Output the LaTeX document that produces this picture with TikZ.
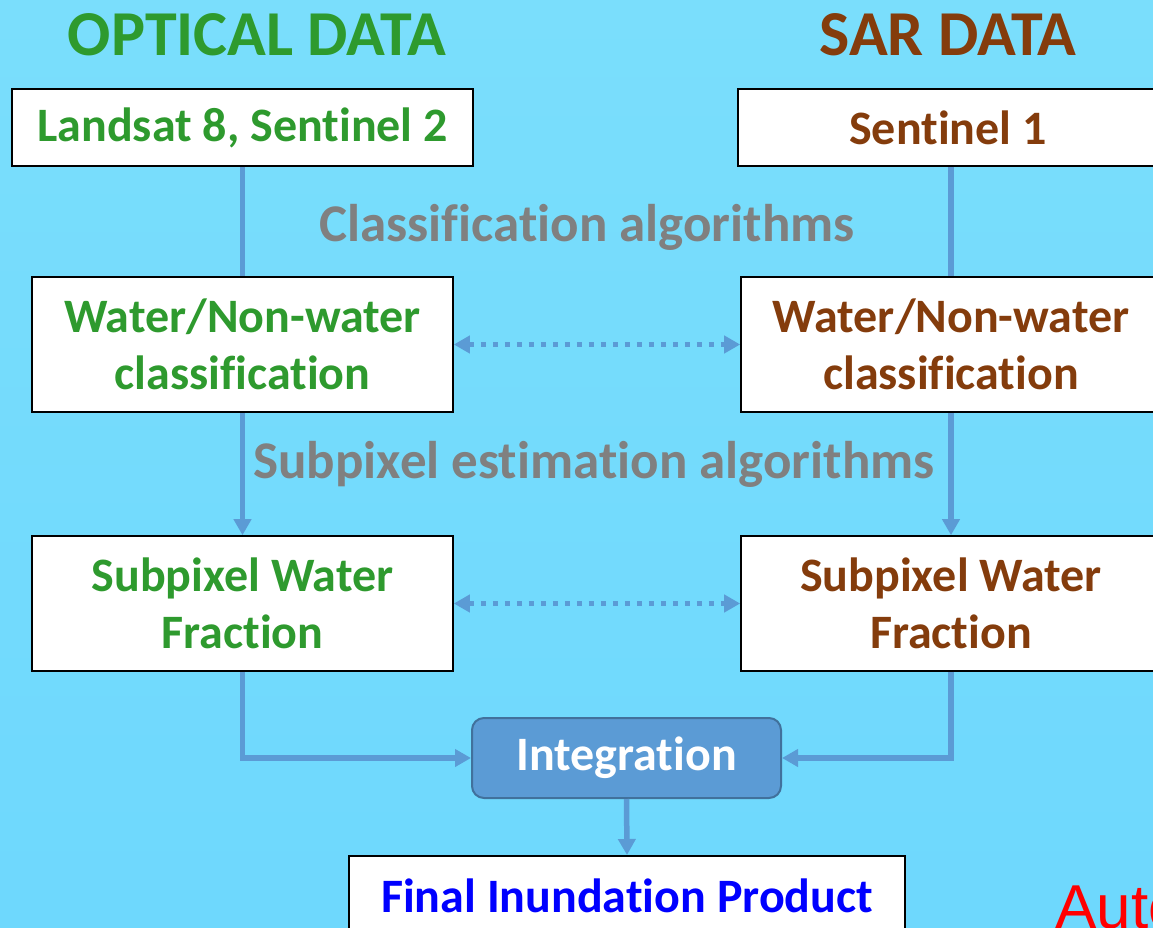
\documentclass[tikz,border=0pt]{standalone}
\usepackage{fontspec}
\setmainfont{Carlito}[Ligatures=NoCommon]
\newfontfamily\arialfont{Liberation Sans}
\usepackage{xcolor}
\usetikzlibrary{positioning,arrows.meta}

\definecolor{optgreen}{HTML}{2E9A2E}
\definecolor{sarbrown}{HTML}{843C0C}
\definecolor{linkblue}{HTML}{5B9BD5}
\definecolor{integline}{HTML}{41719C}
\definecolor{algogray}{HTML}{808080}

\begin{document}
\begin{tikzpicture}[x=1pt,y=-1pt,
                    data box/.style={draw=black,line width=1.6pt,fill=white,inner sep=0pt,align=center,
                                     font=\bfseries\fontsize{48}{57}\selectfont},
                    head/.style={font=\bfseries\fontsize{64}{64}\selectfont},
                    algo/.style={text=algogray,font=\bfseries\fontsize{53}{60}\selectfont},
                    link/.style={draw=linkblue,line width=5.5pt},
                    tip/.style={-{Triangle[length=16pt,width=17pt]}}]

  \useasboundingbox (0,0) rectangle (1153,928);
  \clip (0,0) rectangle (1153,928);
  \shade[top color={rgb,255:red,122;green,222;blue,252},middle color={rgb,255:red,134;green,228;blue,253},
         bottom color={rgb,255:red,110;green,216;blue,253}] (0,0) rectangle (1153,928);

  % headers
  \node[head,text=optgreen] (opthead) at (257,35) {OPTICAL DATA};
  \node[head,text=sarbrown] (sarhead) at (948,35) {SAR DATA};

  % boxes
  \node[data box,text=optgreen,minimum width=461pt,minimum height=77pt] (land) at (242.5,127.5) {Landsat 8, Sentinel 2};
  \node[data box,text=sarbrown,minimum width=420pt,minimum height=77pt] (sent) at (948,127.5) {Sentinel 1};
  \node[data box,text=optgreen,minimum width=421pt,minimum height=135pt] (optclass) at (242.5,344.5) {Water/Non-water\\classification};
  \node[data box,text=sarbrown,minimum width=420pt,minimum height=135pt] (sarclass) at (951,344.5) {Water/Non-water\\classification};
  \node[data box,text=optgreen,minimum width=421pt,minimum height=135pt] (optfrac) at (242.5,603.5) {Subpixel Water\\Fraction};
  \node[data box,text=sarbrown,minimum width=420pt,minimum height=135pt] (sarfrac) at (951,603.5) {Subpixel Water\\Fraction};
  \node[draw=integline,line width=2pt,fill=linkblue,rounded corners=12pt,text=white,
        minimum width=309pt,minimum height=80pt,font=\bfseries\fontsize{48}{50}\selectfont] (integ) at (626.5,758) {Integration};
  \node[data box,text=blue,minimum width=556pt,minimum height=80pt,anchor=north] (final) at (627,855) {Final Inundation Product};

  % algorithm labels
  \node[algo] (classalgo) at (587,227) {Classification algorithms};
  \node[algo] (subalgo) at (594,464) {Subpixel estimation algorithms};

  % connectors
  \draw[link] (land.south) -- (optclass.north);
  \draw[link] (sarclass.north |- sent.south) -- (sarclass.north);
  \draw[link,tip] (optclass.south) -- (optfrac.north);
  \draw[link,tip] (sarclass.south) -- (sarfrac.north);
  \draw[link,tip] (optfrac.south) |- (integ.west);
  \draw[link,tip] (sarfrac.south) |- (integ.east);
  \draw[link,tip] (integ.south) -- (final.north);
  \draw[link,line width=4.5pt,dash pattern=on 5pt off 7pt,{Triangle[length=16pt,width=17pt]}-{Triangle[length=16pt,width=17pt]}]
    (optclass.east) -- (sarclass.west);
  \draw[link,line width=4.5pt,dash pattern=on 5pt off 7pt,{Triangle[length=16pt,width=17pt]}-{Triangle[length=16pt,width=17pt]}]
    (optfrac.east) -- (sarfrac.west);

  \node[anchor=base west,text=red,font=\arialfont\fontsize{62}{62}\selectfont] (auto) at (1052,928) {Auto};
\end{tikzpicture}
\end{document}
